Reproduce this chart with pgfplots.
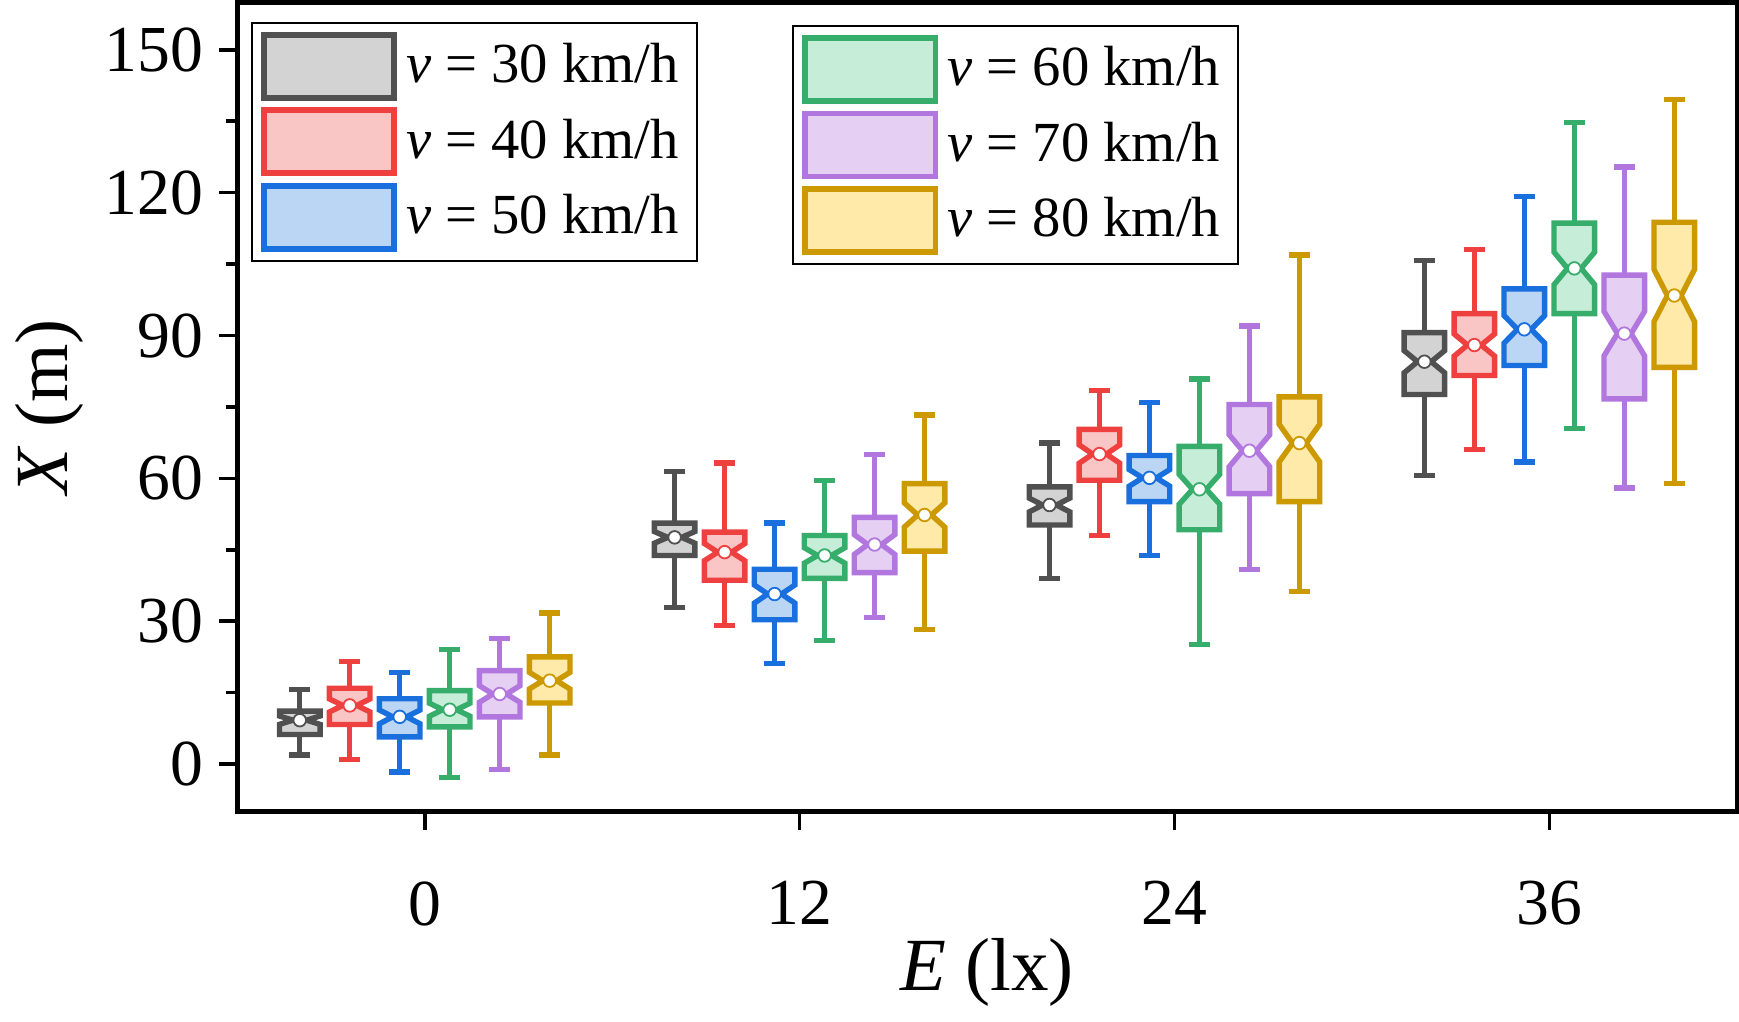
\documentclass[border=0pt]{standalone}
\usepackage{pgfplots}
\pgfplotsset{compat=1.18}
\usepackage{fontspec}
\setmainfont{Liberation Serif}
\definecolor{c1D}{HTML}{505050}\definecolor{c1F}{HTML}{D3D3D3}
\definecolor{c2D}{HTML}{EF4040}\definecolor{c2F}{HTML}{F9C5C5}
\definecolor{c3D}{HTML}{1A6FDF}\definecolor{c3F}{HTML}{BBD6F5}
\definecolor{c4D}{HTML}{37AD6B}\definecolor{c4F}{HTML}{C5EDD8}
\definecolor{c5D}{HTML}{B177DE}\definecolor{c5F}{HTML}{E5D0F3}
\definecolor{c6D}{HTML}{CC9900}\definecolor{c6F}{HTML}{FFEAAA}
\newcommand\bx[7]{%
\pgfmathsetmacro\a{#1-0.65}\pgfmathsetmacro\b{#1+0.65}%
\pgfmathsetmacro\ai{#1-0.22}\pgfmathsetmacro\bi{#1+0.22}%
\pgfmathsetmacro\ca{#1-0.33}\pgfmathsetmacro\cb{#1+0.33}%
\pgfmathsetmacro\nl{max(#3,#4-0.18*(#5-#3))}\pgfmathsetmacro\nh{min(#5,#4+0.18*(#5-#3))}%
\edef\temp{%
\noexpand\addplot[draw=#7D,line width=1.2pt] coordinates {(#1,#2)(#1,#3)};
\noexpand\addplot[draw=#7D,line width=1.2pt] coordinates {(#1,#5)(#1,#6)};
\noexpand\addplot[draw=#7D,line width=1.2pt] coordinates {(\ca,#2)(\cb,#2)};
\noexpand\addplot[draw=#7D,line width=1.2pt] coordinates {(\ca,#6)(\cb,#6)};
\noexpand\addplot[draw=#7D,fill=#7F,line width=1.2pt,line join=miter] coordinates {(\a,#3)(\b,#3)(\b,\nl)(\bi,#4)(\b,\nh)(\b,#5)(\a,#5)(\a,\nh)(\ai,#4)(\a,\nl)} --cycle;
\noexpand\addplot[only marks,mark=*,mark size=1.4pt,mark options={fill=white,draw=#7D,line width=0.4pt}] coordinates {(#1,#4)};
}\temp}
\pgfplotsset{
 legimg/.style={legend image code/.code={\draw[##1,line width=1.3pt] (0pt,-7pt) rectangle (29pt,7pt);}},
 common/.style={scale only axis, width=333.5pt, height=180pt, xmin=-6, xmax=42, ymin=-10, ymax=160,
   legend style={draw=black, line width=0.5pt, font=\fontsize{12.6}{15}\selectfont, row sep=1.5pt, inner sep=2pt},
   legend cell align=left}
}
\begin{document}
\begin{tikzpicture}
\begin{axis}[common,
  font=\fontsize{14.6}{17}\selectfont,
  /pgf/number format/assume math mode=true,
  axis line style={line width=1pt},
  xtick={0,12,24,36}, ytick={0,30,60,90,120,150},
  minor ytick={15,45,75,105,135},
  tick align=outside, xtick pos=bottom, ytick pos=left,
  major tick length=4pt, minor tick length=2.5pt,
  tick style={line width=0.8pt, black},
  xticklabel style={yshift=-8pt},
  xlabel={\textit{E} (lx)}, ylabel={\textit{X} (m)},
  label style={font=\fontsize{16.7}{19}\selectfont},
  xlabel style={yshift=4pt}, ylabel style={yshift=-2pt},
  legend style={at={(rel axis cs:0.009,0.976)}, anchor=north west},
]
\addlegendimage{legimg,draw=c1D,fill=c1F}\addlegendentry{\textit{v} = 30 km/h}
\addlegendimage{legimg,draw=c2D,fill=c2F}\addlegendentry{\textit{v} = 40 km/h}
\addlegendimage{legimg,draw=c3D,fill=c3F}\addlegendentry{\textit{v} = 50 km/h}
% E=0
\bx{-4.0}{1.9}{6.2}{9.2}{11.1}{15.6}{c1}
\bx{-2.4}{0.9}{8.3}{12.3}{15.9}{21.5}{c2}
\bx{-0.8}{-1.7}{5.7}{9.9}{13.7}{19.2}{c3}
\bx{0.8}{-2.8}{7.8}{11.4}{15.4}{24.1}{c4}
\bx{2.4}{-1.2}{9.9}{14.7}{19.6}{26.3}{c5}
\bx{4.0}{1.9}{12.8}{17.5}{22.5}{31.7}{c6}
% E=12
\bx{8.0}{32.9}{43.8}{47.6}{50.6}{61.5}{c1}
\bx{9.6}{29.1}{38.6}{44.5}{48.7}{63.2}{c2}
\bx{11.2}{21.1}{30.3}{35.7}{40.9}{50.6}{c3}
\bx{12.8}{26.0}{39.0}{43.8}{48.0}{59.6}{c4}
\bx{14.4}{30.8}{40.2}{46.1}{51.8}{65.0}{c5}
\bx{16.0}{28.2}{44.7}{52.3}{58.9}{73.3}{c6}
% E=24
\bx{20.0}{39.0}{50.2}{54.4}{58.2}{67.4}{c1}
\bx{21.6}{48.0}{59.6}{65.1}{70.3}{78.5}{c2}
\bx{23.2}{43.8}{55.1}{60.1}{64.8}{75.9}{c3}
\bx{24.8}{25.1}{49.2}{57.7}{66.7}{80.9}{c4}
\bx{26.4}{40.9}{56.8}{65.8}{75.5}{92.0}{c5}
\bx{28.0}{36.2}{55.1}{67.4}{77.1}{106.9}{c6}
% E=36
\bx{32.0}{60.6}{77.6}{84.5}{90.6}{105.7}{c1}
\bx{33.6}{66.0}{81.6}{88.0}{94.6}{108.1}{c2}
\bx{35.2}{63.4}{83.7}{91.3}{99.8}{119.2}{c3}
\bx{36.8}{70.5}{94.6}{104.1}{113.6}{134.8}{c4}
\bx{38.4}{58.0}{76.7}{90.4}{102.7}{125.4}{c5}
\bx{40.0}{58.9}{83.3}{98.4}{113.8}{139.6}{c6}
\end{axis}
\begin{axis}[common, hide axis,
  legend style={at={(rel axis cs:0.370,0.972)}, anchor=north west}]
\addlegendimage{legimg,draw=c4D,fill=c4F}\addlegendentry{\textit{v} = 60 km/h}
\addlegendimage{legimg,draw=c5D,fill=c5F}\addlegendentry{\textit{v} = 70 km/h}
\addlegendimage{legimg,draw=c6D,fill=c6F}\addlegendentry{\textit{v} = 80 km/h}
\end{axis}
\end{tikzpicture}
\end{document}
